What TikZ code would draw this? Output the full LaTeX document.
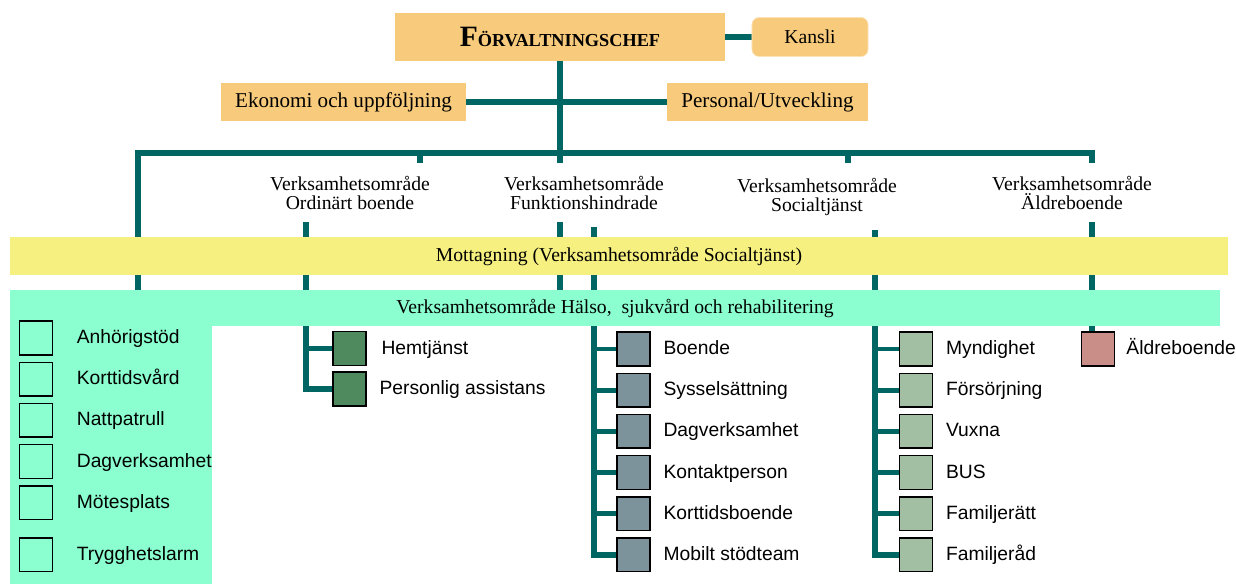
\documentclass[tikz,border=0pt]{standalone}
\usepackage{fontspec}
\setmainfont{Liberation Serif}
\setsansfont{Liberation Sans}
\usetikzlibrary{positioning,backgrounds}

\definecolor{ledteal}{HTML}{006663}
\definecolor{chefgul}{HTML}{F8CB7C}
\definecolor{mottgul}{HTML}{F5F07F}
\definecolor{halsogron}{HTML}{8BFFD0}
\definecolor{ordgron}{HTML}{4E8A5E}
\definecolor{fungra}{HTML}{7D939C}
\definecolor{socgron}{HTML}{A3BFA3}
\definecolor{aldrosa}{HTML}{C98E88}

\tikzset{
  lednbox/.style={fill=chefgul, inner sep=0pt, font=\fontsize{15}{18}\selectfont},
  band/.style={inner sep=0pt, font=\fontsize{14}{16}\selectfont},
  omrade/.style={align=center, font=\fontsize{14}{13.5}\selectfont},
  ruta/.style={draw=black, line width=1.1pt, minimum width=0.82cm, minimum height=0.84cm, inner sep=0pt},
  enhet/.style={inner sep=1pt, text height=0.72em, text depth=0.12em, yshift=-1pt,
                font=\sffamily\fontsize{13.7}{16}\selectfont},
  stam/.style={draw=ledteal, line width=4.2pt},
  gren/.style={draw=ledteal, line width=3.5pt},
}

\begin{document}
\begin{tikzpicture}[x=0.025cm, y=-0.025cm]
  \useasboundingbox (0,0) rectangle (1236,584);

  % ledning
  \node (chef)     [lednbox, minimum width=8.225cm, minimum height=1.2cm] at (560,37)
        {\textbf{{\fontsize{21}{21}\selectfont F}{\fontsize{13}{13}\selectfont ÖRVALTNINGSCHEF}}};
  \node (kansli)   [lednbox, rounded corners=5pt, draw=chefgul!55, font=\fontsize{14}{16}\selectfont,
                    minimum width=2.9cm, minimum height=0.975cm] at (810,37) {Kansli};
  \node (ekonomi)  [lednbox, minimum width=6.125cm, minimum height=0.95cm] at (343.5,102) {Ekonomi och uppföljning};
  \node (personal) [lednbox, minimum width=5.025cm, minimum height=0.95cm] at (767.5,102) {Personal/Utveckling};

  % verksamhetsområden
  \node (ordinart) [omrade] at (350,193)  {Verksamhetsområde\\Ordinärt boende};
  \node (funktion) [omrade] at (584,193)  {Verksamhetsområde\\Funktionshindrade};
  \node (social)   [omrade] at (817,197)  {Verksamhetsområde\\Socialtjänst};
  \node (aldre)    [omrade] at (1072,193) {Verksamhetsområde\\Äldreboende};

  % band
  \node (mottagning) [band, fill=mottgul, minimum width=30.45cm, minimum height=0.95cm] at (619,256)
        {Mottagning (Verksamhetsområde Socialtjänst)};
  \node (halso)      [band, fill=halsogron, minimum width=30.25cm, minimum height=0.9cm] at (615,308)
        {Verksamhetsområde Hälso,\ \ sjukvård och rehabilitering};
  \node (panel)      [fill=halsogron, inner sep=0pt, minimum width=5.05cm, minimum height=6.5cm,
                      anchor=north west] at (10,324) {};

  % hälso- och sjukvård
  \node (anhorig) [ruta]                         at (36,338) {};
  \node (korttid) [ruta, below=0.15cm of anhorig] {};
  \node (nattpat) [ruta, below=0.15cm of korttid] {};
  \node (dagverk) [ruta, below=0.15cm of nattpat] {};
  \node (motes)   [ruta, below=0.15cm of dagverk] {};
  \node (trygg)   [ruta, below=0.42cm of motes]   {};
  \node (anhorigtxt) [enhet, right=0.55cm of anhorig] {Anhörigstöd};
  \node (korttidtxt) [enhet, right=0.55cm of korttid] {Korttidsvård};
  \node (nattpattxt) [enhet, right=0.55cm of nattpat] {Nattpatrull};
  \node (dagverktxt) [enhet, right=0.55cm of dagverk] {Dagverksamhet};
  \node (motestxt)   [enhet, right=0.55cm of motes]   {Mötesplats};
  \node (tryggtxt)   [enhet, right=0.55cm of trygg]   {Trygghetslarm};

  % ordinärt boende
  \node (hemtjanst) [ruta, fill=ordgron]                           at (349.5,348.5) {};
  \node (persass)   [ruta, fill=ordgron, below=0.135cm of hemtjanst] {};
  \node (hemtjanstxt) [enhet, right=0.33cm of hemtjanst] {Hemtjänst};
  \node (persasstxt)  [enhet, right=0.28cm of persass]   {Personlig assistans};

  % funktionshindrade
  \node (fboende)  [ruta, fill=fungra]                          at (633.5,349) {};
  \node (fsyssel)  [ruta, fill=fungra, below=0.15cm of fboende]  {};
  \node (fdagverk) [ruta, fill=fungra, below=0.15cm of fsyssel]  {};
  \node (fkontakt) [ruta, fill=fungra, below=0.15cm of fdagverk] {};
  \node (fkorttid) [ruta, fill=fungra, below=0.15cm of fkontakt] {};
  \node (fmobil)   [ruta, fill=fungra, below=0.15cm of fkorttid] {};
  \node (fboendetxt)  [enhet, right=0.28cm of fboende]  {Boende};
  \node (fsysseltxt)  [enhet, right=0.28cm of fsyssel]  {Sysselsättning};
  \node (fdagverktxt) [enhet, right=0.28cm of fdagverk] {Dagverksamhet};
  \node (fkontakttxt) [enhet, right=0.28cm of fkontakt] {Kontaktperson};
  \node (fkorttidtxt) [enhet, right=0.28cm of fkorttid] {Korttidsboende};
  \node (fmobiltxt)   [enhet, right=0.28cm of fmobil]   {Mobilt stödteam};

  % socialtjänst
  \node (smyndig)  [ruta, fill=socgron]                          at (916,349) {};
  \node (sforsorj) [ruta, fill=socgron, below=0.15cm of smyndig]  {};
  \node (svuxna)   [ruta, fill=socgron, below=0.15cm of sforsorj] {};
  \node (sbus)     [ruta, fill=socgron, below=0.15cm of svuxna]   {};
  \node (sfamratt) [ruta, fill=socgron, below=0.15cm of sbus]     {};
  \node (sfamrad)  [ruta, fill=socgron, below=0.15cm of sfamratt] {};
  \node (smyndigtxt)  [enhet, right=0.28cm of smyndig]  {Myndighet};
  \node (sforsorjtxt) [enhet, right=0.28cm of sforsorj] {Försörjning};
  \node (svuxnatxt)   [enhet, right=0.28cm of svuxna]   {Vuxna};
  \node (sbustxt)     [enhet, right=0.28cm of sbus]     {BUS};
  \node (sfamratttxt) [enhet, right=0.28cm of sfamratt] {Familjerätt};
  \node (sfamradtxt)  [enhet, right=0.28cm of sfamrad]  {Familjeråd};

  % äldreboende
  \node (aboende)    [ruta, fill=aldrosa] at (1098,349) {};
  \node (aboendetxt) [enhet, right=0.24cm of aboende] {Äldreboende};

  \begin{pgfonlayer}{background}
    \coordinate (buss)       at (560,153);
    \coordinate (busvanster) at (138,153);
    \coordinate (bushoger)   at (1092,153);
    \coordinate (stubord)    at (420,163);
    \coordinate (stubfun)    at (560,163);
    \coordinate (stubsoc)    at (848,163);
    \coordinate (stubald)    at (1092,163);

    \draw [stam] (chef) -- (kansli);
    \draw [stam] (ekonomi) -- (personal);
    \draw [stam] (chef.south) -- (stubfun);
    \draw [stam] (halso.north -| busvanster) -- (busvanster) -- (bushoger) -- (stubald);
    \draw [stam] (stubord |- buss) -- (stubord);
    \draw [stam] (stubsoc |- buss) -- (stubsoc);

    \coordinate (ordlinje) at (306,222);
    \draw [stam] (ordlinje) |- (persass.west);
    \draw [gren] (ordlinje |- hemtjanst) -- (hemtjanst.west);

    \coordinate (funvanster) at (560,222);
    \coordinate (funlinje)   at (594,227);
    \draw [stam] (funvanster) -- (funvanster |- halso.north);
    \draw [stam] (funlinje) |- (fmobil.west);
    \draw [gren] (funlinje |- fboende)  -- (fboende.west);
    \draw [gren] (funlinje |- fsyssel)  -- (fsyssel.west);
    \draw [gren] (funlinje |- fdagverk) -- (fdagverk.west);
    \draw [gren] (funlinje |- fkontakt) -- (fkontakt.west);
    \draw [gren] (funlinje |- fkorttid) -- (fkorttid.west);

    \coordinate (soclinje) at (875,230);
    \draw [stam] (soclinje) |- (sfamrad.west);
    \draw [gren] (soclinje |- smyndig)  -- (smyndig.west);
    \draw [gren] (soclinje |- sforsorj) -- (sforsorj.west);
    \draw [gren] (soclinje |- svuxna)   -- (svuxna.west);
    \draw [gren] (soclinje |- sbus)     -- (sbus.west);
    \draw [gren] (soclinje |- sfamratt) -- (sfamratt.west);

    \coordinate (aldlinje) at (1092,222);
    \draw [stam] (aldlinje) -- (aldlinje |- aboende.north);
  \end{pgfonlayer}
\end{tikzpicture}
\end{document}
